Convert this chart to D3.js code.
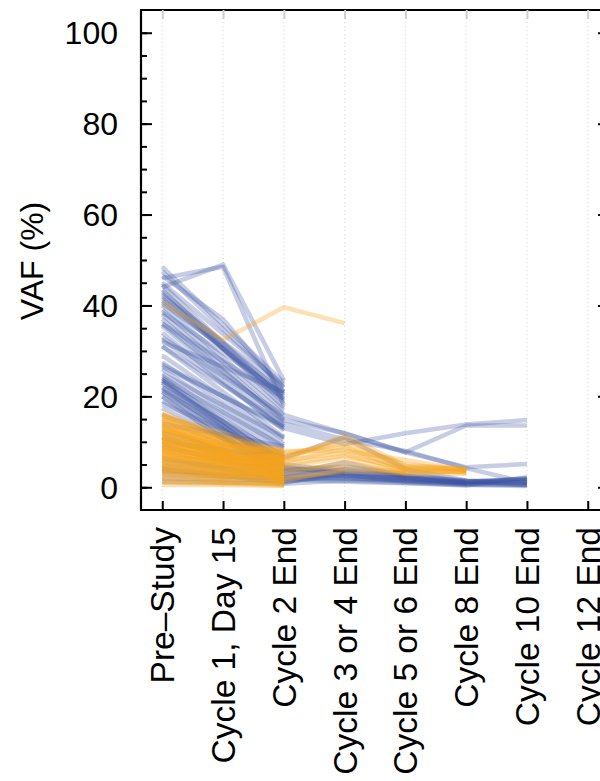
<!DOCTYPE html>
<html>
<head>
<meta charset="utf-8">
<script src="https://cdn.jsdelivr.net/npm/d3@7"></script>
<style>
  body { margin: 0; background: #fff; }
  svg text { font-family: "Liberation Sans", Arial, Helvetica, sans-serif; fill: #000; }
</style>
</head>
<body>
<svg id="chart" width="600" height="781"></svg>
<script>
// Visit time points along the x axis
const timepoints = [
  "Pre\u2013Study", "Cycle 1, Day 15", "Cycle 2 End", "Cycle 3 or 4 End",
  "Cycle 5 or 6 End", "Cycle 8 End", "Cycle 10 End", "Cycle 12 End"
];
const yTicks = [0, 20, 40, 60, 80, 100];
const yMinorTicks = d3.range(0, 101, 5);

// VAF (%) per patient, one value per time point (null = not measured)
const bluePatients = [
  [48.5, null, 23], [47.5, null, 22], [46.5, 37, 21], [46, 48.5, 18],
  [45, null, 22.5], [44, 49, 23.5], [44.5, null, 19], [43.5, null, 17.5],
  [43, null, 20.5], [42.5, null, 18.5], [42, null, 22], [41.5, null, 19.5],
  [41, null, 20], [40.5, null, 21], [40, null, 17],
  [39, null, 16], [38.5, null, 20.5], [38, null, 15],
  [37, null, 14.5], [36, null, 19.5], [35.5, null, 13.5],
  [34, null, 12.5], [32.5, null, 13],
  [32, null, 21], [31, null, 11], [29, null, 10.5],
  [27.5, null, 9.5], [26.5, null, 13.5], [26, null, 8.5],
  [25, null, 11], [24.5, null, 7.5], [24, null, 9], [23.5, null, 6.5],
  [23, null, 5.5], [22, null, 7],
  [21.5, null, 4.5], [21, null, 6], [20, null, 5],
  [19, null, 3.5], [18.5, null, 6.5], [17.5, null, 4], [16, null, 5.5],
  [14, null, 9], [11, null, 3],
  [36, null, 14.8, 11.9, 7.7, 13.6, 13.6],
  [27, null, 13, 9.5, 11.9, 13.8, 14.8],
  [33, null, 15.9, null, 7.7, 4.4, 5.1],
  [31, null, 14, 10.5, 8, 4.2, 1.0],
  [24, null, 5, 3.6, 2.5, 1.4, 1.0],
  [23, null, 4, 3, 2, 1.2, 1.5],
  [23.5, null, 3.8, 4.5, 2.8, 1.5, 0.4],
  [22, null, 3, 2.2, 1.6, 0.9, 2.0],
  [21, null, 2, 1.8, 1.3, 0.7, 0.6],
  [20, null, 1.2, 2.6, 1.9, 1.1, 1.6],
  [12, null, 4.5, 3, 2.6, 1.3, 1.9],
  [10, null, 6.5, 11, 4, 1.5],
  [9, null, 2.8, 5.5, 2.2, 0.9],
  [6.5, null, 1.8, 1.2, 0.9, 0.4, 2.2],
  [5.5, null, 4.2, 3.3, 2.2, 1.2, 1.8],
  [4.5, null, 3.5, 2.5, 1.8, 1.0, 0.8],
  [3.5, null, 2.5, 2, 1.5, 0.8, 1.2],
  [2, null, 1.5, 2.8, 1.2, 0.6, 0.5],
  [1.2, null, 0.8, 1.5, 1, 0.5, 0.3],
  [3, null, 2, 4, 2.4],
  [4, null, 1, 3.2]
];

const orangePatients = [
  [40.7, 32.4, 39.6, 36.1],
  [16.5, 11, 6], [16, 10, 4.5], [16, 11, 7], [15.5, 12, 7.5], [15, 9, 3],
  [15, 9.5, 5], [14.5, 10.5, 5.5], [14, 8, 2], [13.5, 9.5, 6.5],
  [13.5, 8, 4], [13, 11, 8], [13, 7.5, 3.5], [12.5, 9, 5], [12, 8.5, 1.5],
  [12, 10, 7], [12, 9, 6], [11.5, 7, 4], [11, 8, 6], [11, 6.5, 2.5],
  [11, 7.5, 5], [10.5, 9, 8.5], [10.5, 7.5, 3], [10, 6, 5], [10, 8, 1],
  [9.5, 7, 4.5], [9.5, 5.5, 6], [9.5, 7, 6.5], [9, 7.5, 2], [9, 6, 7.5],
  [8.5, 5, 3.5], [8.5, 6.5, 5.5], [8, 7, 0.8], [8, 4.5, 4], [8, 6, 4.5],
  [7.5, 6, 6.5], [7.5, 5, 2.5], [7, 5.5, 3], [7, 4, 5], [6.5, 6, 1.5],
  [6.5, 3.5, 4], [6, 4.5, 2], [6, 5, 6], [5.5, 3, 3.5],
  [5, 4, 1], [5, 2.5, 4.5], [4.5, 3.5, 2.5], [4, 2, 3],
  [4, 3, 0.5], [3.5, 2.5, 2], [3, 1.5, 1.5], [2.5, 2, 3.5],
  [2, 1, 1], [1.5, 1.2, 0.6], [1, 0.8, 0.4], [0.5, 0.5, 0.3],
  [14, 9.5, 7.5, 9.5, 5, 4],
  [12.5, 8, 6.5, 10.4, 4.5, 3.8],
  [11, 7, 5.5, 8.5, 4, 3.5],
  [10, 6.5, 7, 9, 3.8, 3.2],
  [8, 5.5, 6, 7.5, 3.5, 3.4],
  [6, 4, 4.5, 6.5, 3.2, 3.6],
  [5, 3.5, 3, 5.5, 3, 3.0],
  [9, 6, 5, 7, 4.2, 4.1],
  [13, 8.5, 8, 8, 6, 3.8],
  [7, 5, 4, 4.5, 3.3],
  [4, 3, 2, 3.5, 3.1],
  [15, 10, 6, 11.4, 4.8, 3.9],
  [3, 2.5, 1.5, 4]
];

const blueColor = "#3952a3";
const orangeColor = "#f6a31e";

const svg = d3.select("#chart");
const plot = { left: 141, right: 609, top: 10, bottom: 510 };

const x = d3.scalePoint()
  .domain(timepoints)
  .range([plot.left, plot.right])
  .padding(0.35);

const y = d3.scaleLinear()
  .domain([-5, 105])
  .range([plot.bottom, plot.top]);

// Dotted vertical guides at each time point
svg.append("g")
  .selectAll("line")
  .data(timepoints)
  .join("line")
  .attr("x1", d => x(d)).attr("x2", d => x(d))
  .attr("y1", plot.top).attr("y2", plot.bottom)
  .attr("stroke", "#d4d4d4")
  .attr("stroke-width", 1)
  .attr("stroke-dasharray", "1,3");

// Patient trajectories
const line = d3.line()
  .x(d => x(timepoints[d.i]))
  .y(d => y(d.v));

function toPoints(values) {
  return values.map((v, i) => ({ i, v })).filter(d => d.v !== null && d.v !== undefined);
}

const lines = svg.append("g").attr("fill", "none")
  .attr("stroke-width", 4.5)
  .attr("stroke-linejoin", "round")
  .attr("stroke-linecap", "butt");

lines.selectAll("path.blue")
  .data(bluePatients)
  .join("path")
  .attr("class", "blue")
  .attr("d", d => line(toPoints(d)))
  .attr("stroke", blueColor)
  .attr("stroke-opacity", 0.29);

lines.selectAll("path.orange")
  .data(orangePatients)
  .join("path")
  .attr("class", "orange")
  .attr("d", d => line(toPoints(d)))
  .attr("stroke", orangeColor)
  .attr("stroke-opacity", 0.33);

// Frame
const frame = svg.append("g").attr("stroke", "#000").attr("stroke-width", 2.2);
frame.append("line").attr("x1", plot.left).attr("x2", plot.left).attr("y1", plot.top - 1).attr("y2", plot.bottom + 1);
frame.append("line").attr("x1", plot.right).attr("x2", plot.right).attr("y1", plot.top - 1).attr("y2", plot.bottom + 1);
frame.append("line").attr("x1", plot.left - 1).attr("x2", plot.right + 1).attr("y1", plot.top).attr("y2", plot.top);
frame.append("line").attr("x1", plot.left - 1).attr("x2", plot.right + 1).attr("y1", plot.bottom).attr("y2", plot.bottom);

// Left axis: inward ticks with minor ticks every 5
svg.append("g")
  .attr("transform", `translate(${plot.left},0)`)
  .call(g => {
    d3.axisRight(y).tickValues(yMinorTicks).tickSize(6).tickFormat("")(g);
    g.select(".domain").remove();
    g.selectAll("line").attr("stroke", "#000").attr("stroke-width", 2);
  });
svg.append("g")
  .attr("transform", `translate(${plot.left},0)`)
  .call(g => {
    d3.axisRight(y).tickValues(yTicks).tickSize(11).tickFormat("")(g);
    g.select(".domain").remove();
    g.selectAll("line").attr("stroke", "#000").attr("stroke-width", 2);
  });

// Right axis mirror ticks
svg.append("g")
  .attr("transform", `translate(${plot.right},0)`)
  .call(g => {
    d3.axisLeft(y).tickValues(yTicks).tickSize(11).tickFormat("")(g);
    g.select(".domain").remove();
    g.selectAll("line").attr("stroke", "#000").attr("stroke-width", 2);
  });

// Y tick labels
svg.append("g")
  .selectAll("text")
  .data(yTicks)
  .join("text")
  .attr("x", plot.left - 23)
  .attr("y", d => y(d))
  .attr("dy", "0.36em")
  .attr("text-anchor", "end")
  .attr("font-size", 32)
  .text(d => d);

// Y axis title
svg.append("text")
  .attr("transform", `translate(43,${(y(0) + y(100)) / 2 + 1}) rotate(-90)`)
  .attr("text-anchor", "middle")
  .attr("font-size", 32)
  .text("VAF (%)");

// Bottom axis ticks (inward)
svg.append("g")
  .attr("transform", `translate(0,${plot.bottom})`)
  .call(g => {
    d3.axisTop(x).tickSize(9).tickFormat("")(g);
    g.select(".domain").remove();
    g.selectAll("line").attr("stroke", "#000").attr("stroke-width", 2);
  });

// Top axis ticks (light)
svg.append("g")
  .attr("transform", `translate(0,${plot.top})`)
  .call(g => {
    d3.axisBottom(x).tickSize(9).tickFormat("")(g);
    g.select(".domain").remove();
    g.selectAll("line").attr("stroke", "#cfcfcf").attr("stroke-width", 2);
  });

// Rotated time point labels
svg.append("g")
  .selectAll("text")
  .data(timepoints)
  .join("text")
  .attr("transform", d => `translate(${x(d)},527) rotate(-90)`)
  .attr("dy", "0.36em")
  .attr("text-anchor", "end")
  .attr("font-size", 33.5)
  .text(d => d);
</script>
</body>
</html>
